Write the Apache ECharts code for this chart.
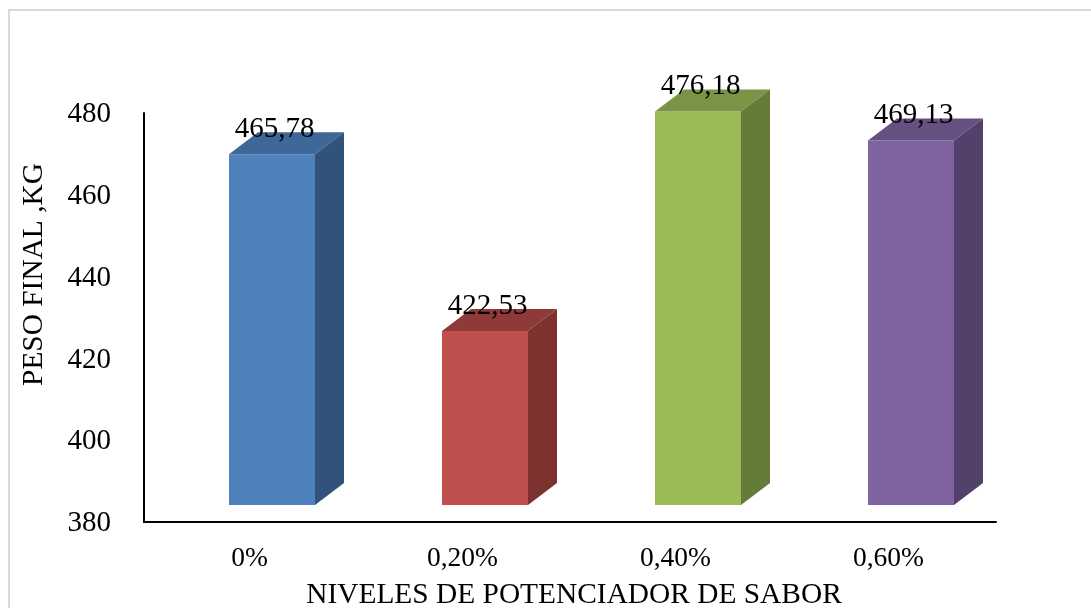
<!DOCTYPE html>
<html><head><meta charset="utf-8">
<style>html,body{margin:0;padding:0;background:#fff}#c{width:1091px;height:608px}</style>
<script src="https://cdn.jsdelivr.net/npm/echarts@6/dist/echarts.min.js"></script>
</head><body><div id="c"></div>
<script>
const categories = ['0%', '0,20%', '0,40%', '0,60%'];
const pesoFinal = [465.78, 422.53, 476.18, 469.13];
const frontColors = ['#4F81BD', '#C0504D', '#9BBB59', '#8064A2'];
const topColors = ['#3F6797', '#8E3A38', '#7A9445', '#65507F'];
const sideColors = ['#31527A', '#7D3230', '#657B3A', '#54416B'];
const FONT = '"Liberation Serif", "Times New Roman", serif';
const FS = 29;

const chart = echarts.init(document.getElementById('c'), null, {renderer: 'canvas'});
function renderBar(params, api) {
  const i = api.value(0), v = api.value(1);
  const top = api.coord([i, v]);
  const base = api.coord([i, 380]);
  const c = top[0], lift = 17, dx = 29, dy = 22;
  const x0 = c - 21.5, x1 = c + 64.5, yt = top[1] - lift, yb = base[1] - lift;
  const poly = (pts, fill) => ({type: 'polygon', shape: {points: pts}, style: {fill: fill}});
  return {type: 'group', children: [
    poly([[x0, yt], [x1, yt], [x1, yb], [x0, yb]], frontColors[i]),
    poly([[x0, yt], [x0 + dx, yt - dy], [x1 + dx, yt - dy], [x1, yt]], topColors[i]),
    poly([[x1, yt], [x1 + dx, yt - dy], [x1 + dx, yb - dy], [x1, yb]], sideColors[i]),
    {type: 'text', style: {x: c + 24, y: yt - 25, text: v.toFixed(2).replace('.', ','),
      fill: '#000', font: FS + 'px ' + FONT, align: 'center', verticalAlign: 'middle'}}
  ]};
}
chart.setOption({
  animation: false,
  backgroundColor: '#fff',
  grid: {left: 144, right: 95, top: 113, bottom: 86, outerBoundsMode: 'none'},
  graphic: [
    {type: 'polyline', silent: true, z: -1, shape: {points: [[9, 608], [9, 10], [1091, 10]]},
      style: {stroke: '#D9D9D9', lineWidth: 2, fill: null}}
  ],
  xAxis: {
    type: 'category', data: categories, boundaryGap: true,
    axisLine: {lineStyle: {color: '#000', width: 2}}, axisTick: {show: false},
    axisLabel: {color: '#000', fontFamily: FONT, fontSize: 27.5, margin: 23, padding: [0, 2, 0, 0]},
    name: 'NIVELES DE POTENCIADOR DE SABOR', nameLocation: 'middle', nameGap: 59,
    nameTextStyle: {color: '#000', fontFamily: FONT, fontSize: 29.4, padding: [0, 0, 0, 8]}
  },
  yAxis: {
    type: 'value', min: 380, max: 480, interval: 20,
    splitLine: {show: false}, axisTick: {show: false},
    axisLine: {show: true, lineStyle: {color: '#000', width: 2}},
    axisLabel: {margin: 33, formatter: '{a|{value}}',
      rich: {a: {color: '#000', fontFamily: FONT, fontSize: FS, padding: [3, 0, 0, 0]}}},
    name: 'PESO FINAL ,KG', nameLocation: 'middle', nameGap: 95,
    nameTextStyle: {color: '#000', fontFamily: FONT, fontSize: 29.4, padding: [0, 0, 0, 86]}
  },
  series: [{
    type: 'custom', coordinateSystem: 'cartesian2d', clip: false, renderItem: renderBar,
    encode: {x: 0, y: 1},
    data: pesoFinal.map((v, i) => [i, v])
  }]
});
</script></body></html>
